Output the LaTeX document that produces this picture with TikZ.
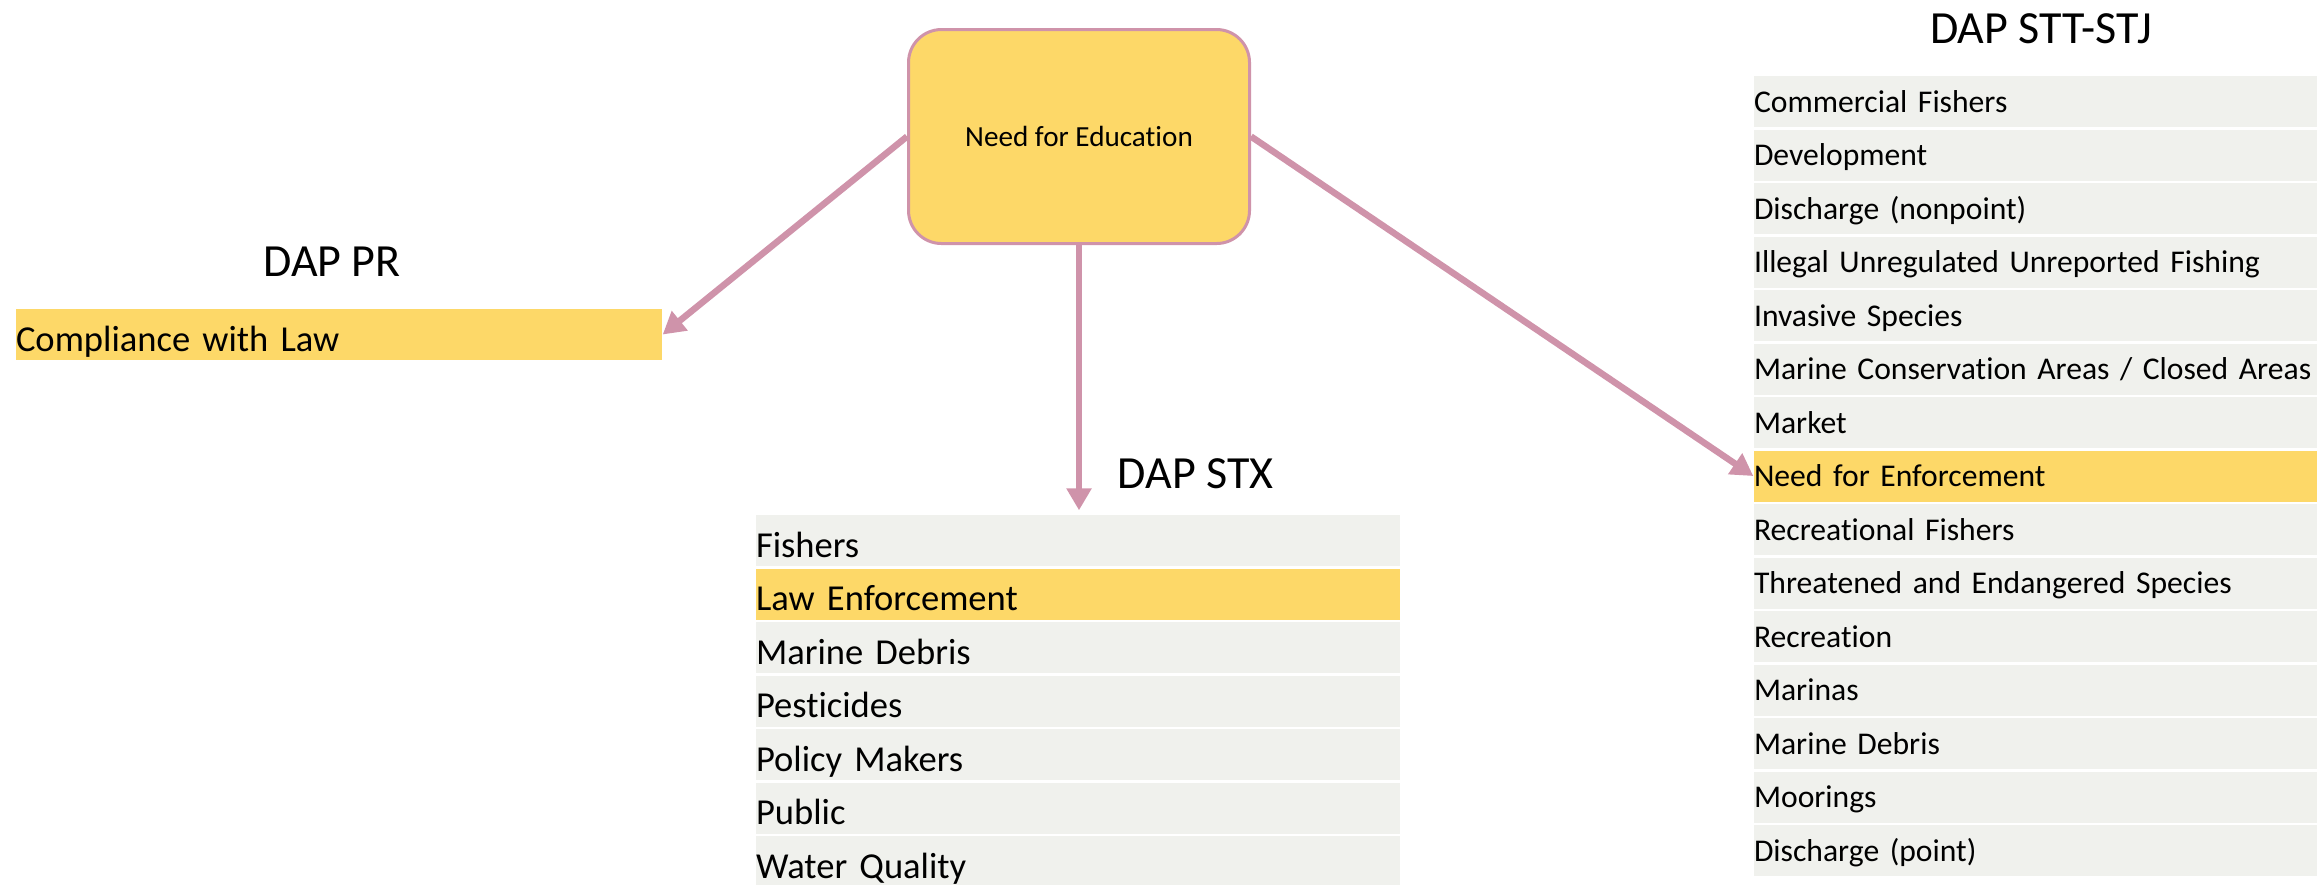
\documentclass[tikz,border=0pt]{standalone}
\usepackage{fontspec}
\setmainfont{Carlito}[Ligatures=NoCommon]
\usetikzlibrary{arrows.meta,positioning}
\definecolor{gold}{RGB}{253,216,104}
\definecolor{rowgrey}{RGB}{240,241,237}
\definecolor{rose}{RGB}{207,147,170}
\tikzset{
  edu/.style={draw=rose, line width=0.3mm, fill=gold, rounded corners=3.3mm,
    minimum width=34.1mm, minimum height=21.4mm, font=\fontsize{8.3pt}{10pt}\selectfont},
  heading/.style={inner sep=0pt, font=\fontsize{13.1pt}{15pt}\selectfont},
  listrow/.style={inner sep=0pt, minimum height=5.1mm, align=left},
  stxrow/.style={listrow, text width=64.4mm, text height=4.2mm, text depth=0.9mm,
    font=\fontsize{10.4pt}{12pt}\selectfont},
  sttrow/.style={listrow, text width=56.3mm, text height=3.6mm, text depth=1.5mm,
    font=\fontsize{9pt}{11pt}\selectfont},
  link/.style={draw=rose, line width=0.65mm, -{Triangle[length=2.2mm,width=2.4mm]}}
}
\begin{document}
\begin{tikzpicture}[x=0.1mm,y=-0.1mm]
  \useasboundingbox (0,0) rectangle (2320,884);
  \node[edu] (edu) at (1079,136.5) {Need for Education};

  \node[heading, anchor=base] (prhead) at (332,276) {DAP PR};
  \node[stxrow, text width=64.6mm, fill=gold] (pr) at (339,334.5) {Compliance with Law};

  \node[heading, anchor=base west] (stxhead) at (1117,488) {DAP STX};
  \foreach \t/\c [count=\i] in {Fishers/rowgrey, Law Enforcement/gold, Marine Debris/rowgrey,
      Pesticides/rowgrey, Policy Makers/rowgrey, Public/rowgrey, Water Quality/rowgrey}
    \node[stxrow, fill=\c] (stx\i) at (1078,{540.5+53.5*(\i-1)}) {\t};

  \node[heading, anchor=base] (stthead) at (2041,43) {DAP STT-STJ};
  \foreach \t/\c [count=\i] in {Commercial Fishers/rowgrey, Development/rowgrey,
      Discharge (nonpoint)/rowgrey, Illegal Unregulated Unreported Fishing/rowgrey,
      Invasive Species/rowgrey, {Marine Conservation Areas / Closed Areas}/rowgrey,
      Market/rowgrey, Need for Enforcement/gold, Recreational Fishers/rowgrey,
      Threatened and Endangered Species/rowgrey, Recreation/rowgrey, Marinas/rowgrey,
      Marine Debris/rowgrey, Moorings/rowgrey, Discharge (point)/rowgrey}
    \node[sttrow, fill=\c] (stt\i) at (2035.5,{101.5+53.5*(\i-1)}) {\t};

  \draw[link] (edu.west) -- (pr.east);
  \draw[link, shorten >=0.4mm] (edu.south) -- (edu.south |- stx1.north);
  \draw[link] (edu.east) -- (stt8.west);
\end{tikzpicture}
\end{document}
